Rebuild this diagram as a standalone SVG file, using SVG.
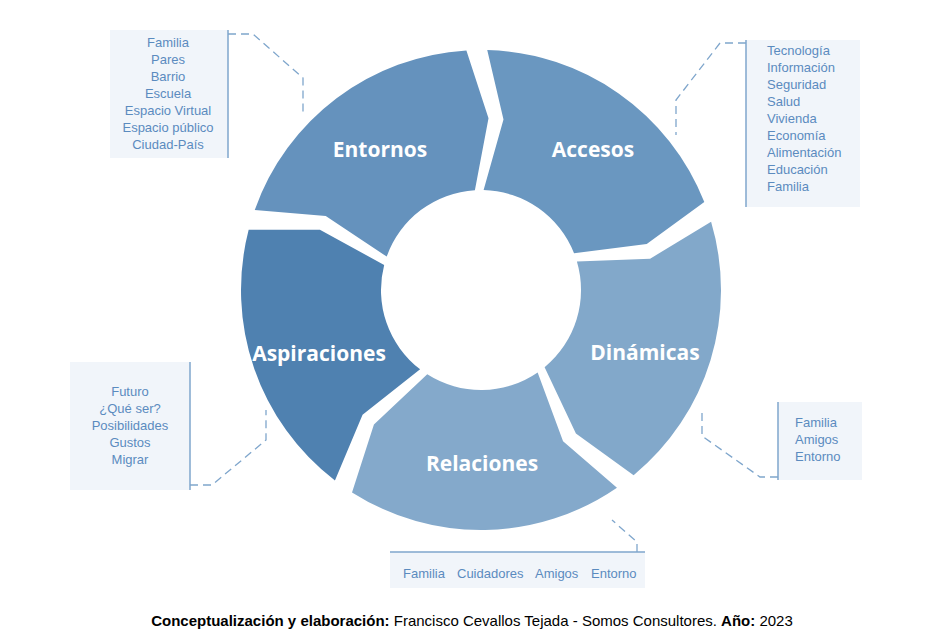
<svg xmlns="http://www.w3.org/2000/svg" width="940" height="638" viewBox="0 0 940 638">
<style>
.seg{stroke:none}
.lbl{font-family:"Open Sans","Liberation Sans",sans-serif;font-weight:bold;font-size:21px;fill:#fff;text-anchor:middle}
.box{fill:#f1f5fa}
.bl{stroke:#7fa6cc;stroke-width:1.5;fill:none}
.dash{stroke:#7fa6cc;stroke-width:1.3;fill:none;stroke-dasharray:8,5}
.t{font-family:"Liberation Sans",Arial,sans-serif;font-size:13px;fill:#5b8bbf;text-anchor:middle}
.tl{font-family:"Liberation Sans",Arial,sans-serif;font-size:13px;fill:#5b8bbf}
.cap{font-family:"Liberation Sans",Arial,sans-serif;font-size:15px;fill:#000;text-anchor:middle}
</style>
<defs>
<path id="s" d="M -132.5 -200.1 A 240 240 0 0 1 132.5 -200.1 L 109.4 -132.7 L 55.2 -83.4 A 100 100 0 0 0 -55.2 -83.4 L -79.4 -152.6 Z"/>
</defs>
<rect width="940" height="638" fill="#fff"/>
<g id="connectors">
<path class="dash" d="M228 34 L253 34 L303 78 L303 115"/>
<path class="dash" d="M746 43 L720 43 L676 100 L676 135"/>
<path class="dash" d="M778 477 L760 477 L702 436 L702 410"/>
<path class="dash" d="M637 552 L637 542 L612 520"/>
<path class="dash" d="M190 485 L212 485 L266 440 L266 410"/>
</g>
<g id="entornos"><use href="#s" fill="#6592bd" transform="translate(481,290) rotate(-37)"/><text class="lbl" x="380" y="157">Entornos</text></g>
<g id="accesos"><use href="#s" fill="#6a97c0" transform="translate(481,290) rotate(35)"/><text class="lbl" x="593" y="157">Accesos</text></g>
<g id="dinamicas"><use href="#s" fill="#82a8ca" transform="translate(481,290) rotate(107)"/><text class="lbl" x="645" y="360">Dinámicas</text></g>
<g id="relaciones"><use href="#s" fill="#84a9cb" transform="translate(481,290) rotate(179)"/><text class="lbl" x="482" y="471">Relaciones</text></g>
<g id="aspiraciones"><use href="#s" fill="#4f81b0" transform="translate(481,290) rotate(251)"/><text class="lbl" x="319" y="361">Aspiraciones</text></g>
<g id="box-entornos"><rect class="box" x="110" y="30" width="118" height="128"/><path class="bl" d="M228 30 V158"/>
<text class="t" x="168" y="47">Familia</text><text class="t" x="168" y="64">Pares</text><text class="t" x="168" y="81">Barrio</text><text class="t" x="168" y="98">Escuela</text><text class="t" x="168" y="115">Espacio Virtual</text><text class="t" x="168" y="132">Espacio público</text><text class="t" x="168" y="149">Ciudad-País</text></g>
<g id="box-accesos"><rect class="box" x="746" y="40" width="114" height="167"/><path class="bl" d="M746 40 V207"/>
<text class="tl" x="767" y="55">Tecnología</text><text class="tl" x="767" y="72">Información</text><text class="tl" x="767" y="89">Seguridad</text><text class="tl" x="767" y="106">Salud</text><text class="tl" x="767" y="123">Vivienda</text><text class="tl" x="767" y="140">Economía</text><text class="tl" x="767" y="157">Alimentación</text><text class="tl" x="767" y="174">Educación</text><text class="tl" x="767" y="191">Familia</text></g>
<g id="box-dinamicas"><rect class="box" x="778" y="402" width="84" height="78"/><path class="bl" d="M778 402 V480"/>
<text class="tl" x="795" y="427">Familia</text><text class="tl" x="795" y="444">Amigos</text><text class="tl" x="795" y="461">Entorno</text></g>
<g id="box-relaciones"><rect class="box" x="390" y="552" width="255" height="36"/><path class="bl" d="M390 552 H645"/>
<text class="tl" x="403" y="578">Familia</text><text class="tl" x="457" y="578">Cuidadores</text><text class="tl" x="535" y="578">Amigos</text><text class="tl" x="591" y="578">Entorno</text></g>
<g id="box-aspiraciones"><rect class="box" x="70" y="362" width="120" height="128"/><path class="bl" d="M190 362 V490"/>
<text class="t" x="130" y="396">Futuro</text><text class="t" x="130" y="413">¿Qué ser?</text><text class="t" x="130" y="430">Posibilidades</text><text class="t" x="130" y="447">Gustos</text><text class="t" x="130" y="464">Migrar</text></g>
<text class="cap" x="472" y="626"><tspan font-weight="bold">Conceptualización y elaboración:</tspan> Francisco Cevallos Tejada - Somos Consultores. <tspan font-weight="bold">Año:</tspan> 2023</text>
</svg>
